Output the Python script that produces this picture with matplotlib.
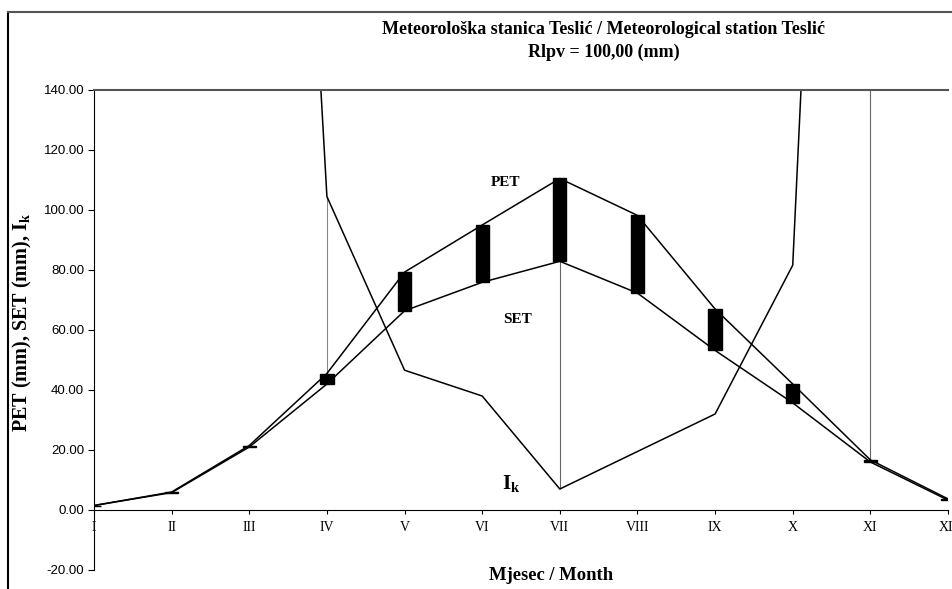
import numpy as np
import matplotlib
matplotlib.use("Agg")
import matplotlib.pyplot as plt
from matplotlib.patches import Rectangle
from matplotlib.lines import Line2D

mjeseci = ["I", "II", "III", "IV", "V", "VI", "VII", "VIII", "IX", "X", "XI", "XII"]
pet = [1.5, 6.0, 21.5, 45.5, 79.3, 95.0, 110.5, 98.2, 67.0, 42.0, 16.7, 3.7]
set_ = [1.5, 5.8, 21.0, 42.0, 66.4, 75.9, 82.9, 72.3, 53.2, 35.7, 16.0, 3.3]
ik = [900.0, 750.0, 563.0, 104.5, 46.6, 38.0, 7.0, 19.5, 32.0, 81.6, 630.0, 700.0]

x = np.arange(1, len(mjeseci) + 1)

serif = "Liberation Serif"
sans = "Liberation Sans"
plt.rcParams["mathtext.fontset"] = "custom"
plt.rcParams["mathtext.bf"] = "Liberation Serif:bold"
plt.rcParams["mathtext.rm"] = "Liberation Serif"

fig = plt.figure(figsize=(9.52, 5.89), dpi=100)
ax = fig.add_axes([94 / 952, 19 / 589, 854 / 952, 480 / 589])

# okvir slike
fig.add_artist(Line2D([8 / 952, 8 / 952], [0, 1 - 12 / 589], color="black", lw=1.5, transform=fig.transFigure))
fig.add_artist(Line2D([8 / 952, 1], [1 - 12 / 589, 1 - 12 / 589], color="#555555", lw=1.5, transform=fig.transFigure))

# vertikalne linije
ax.vlines(4, pet[3], ik[3], color="#888888", lw=0.8)
ax.vlines(7, ik[6], set_[6], color="#666666", lw=0.8)
ax.vlines(11, pet[10], ik[10], color="#666666", lw=0.8)

ax.plot(x, pet, color="black", lw=1.1)
ax.plot(x, set_, color="black", lw=1.1)
ax.plot(x, ik, color="black", lw=1.1)

sirina = 0.17
for xi, p, s in zip(x, pet, set_):
    ax.add_patch(Rectangle((xi - sirina / 2, s), sirina, p - s, color="black", zorder=3))

ax.set_xlim(1, 12)
ax.set_ylim(-20, 140)
ax.set_yticks(np.arange(-20, 141, 20))
ax.set_yticklabels([f"{v:.2f}" for v in np.arange(-20, 141, 20)])
ax.set_xticks(x)
ax.set_xticklabels(mjeseci)

ax.spines["right"].set_visible(False)
ax.spines["bottom"].set_position(("data", 0))
ax.spines["top"].set_color("#555555")
ax.spines["top"].set_linewidth(1.5)
ax.tick_params(axis="y", direction="out", length=4, width=0.8, pad=3,
               labelsize=9.5, labelfontfamily=sans)
ax.tick_params(axis="x", direction="out", length=3, width=0.8, pad=5,
               labelsize=10, labelfontfamily=serif)

ax.text(6.3, 109, "PET", fontfamily=serif, fontweight="bold", fontsize=11, ha="center", va="center")
ax.text(6.45, 63.5, "SET", fontfamily=serif, fontweight="bold", fontsize=11, ha="center", va="center")
ax.text(6.37, 9, r"$\mathbf{I_k}$", fontsize=15, ha="center", va="center")

fig.text(22 / 952, 1 - 322 / 589, r"PET (mm), SET (mm), $\mathbf{I_k}$", rotation=90,
         fontfamily=serif, fontweight="bold", fontsize=14.5, ha="center", va="center")
fig.text(551 / 952, 1 - 576 / 589, "Mjesec / Month", fontfamily=serif, fontweight="bold",
         fontsize=13.4, ha="center", va="center")

fig.text(604 / 952, 1 - 30 / 589, "Meteorološka stanica Teslić / Meteorological station Teslić",
         fontfamily=serif, fontweight="bold", fontsize=13, ha="center", va="center")
fig.text(604 / 952, 1 - 52 / 589, "Rlpv = 100,00 (mm)",
         fontfamily=serif, fontweight="bold", fontsize=13, ha="center", va="center")

fig.savefig("out.png", dpi=100)
